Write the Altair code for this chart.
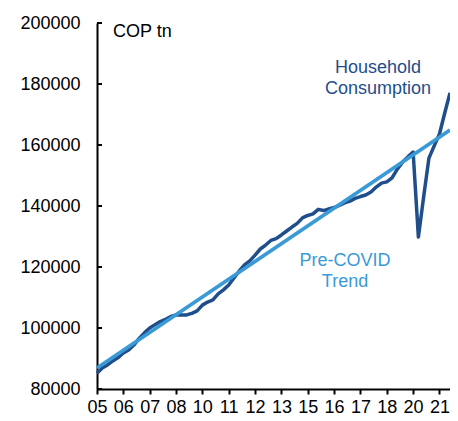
import altair as alt
import pandas as pd

# Quarterly categories 2005Q1 .. 2021Q4
quarters = [f"{y}Q{q}" for y in range(2005, 2022) for q in range(1, 5)]

# Household consumption (COP tn)
household = [85200, 86900, 87900, 89200, 90300, 91800, 92800, 94400, 96600, 98400,
             100000, 101100, 102100, 102800, 103800, 104300, 104300, 104300, 104800, 105600,
             107500, 108500, 109200, 111200, 112500, 114100, 116400, 118700, 120700, 122000,
             123900, 125900, 127200, 128700, 129300, 130500, 131800, 133100, 134300, 136100,
             136900, 137400, 138900, 138500, 139000, 139500, 140200, 141000, 141600, 142500,
             143100, 143600, 144600, 146200, 147500, 147900, 149200, 152100, 154400, 156100,
             157700, 129800, 143000, 155700, 159700, 163600, 170500, 177100]

# Pre-COVID trend (straight line, endpoints)
trend_quarters = ["2005Q1", "2021Q4"]
trend_values = [86900, 164900]

# Axis ticks
x_tick_quarters = ["2005Q1", "2006Q2", "2007Q3", "2008Q4", "2010Q1", "2011Q2", "2012Q3",
                   "2013Q4", "2015Q1", "2016Q2", "2017Q3", "2018Q4", "2020Q1", "2021Q2"]
y_ticks = [80000, 100000, 120000, 140000, 160000, 180000, 200000]

DARK = "#1f4e8a"
LIGHT = "#3a9ad6"
FONT = "Liberation Sans"

df = pd.DataFrame({"quarter": quarters, "value": household})
tdf = pd.DataFrame({"quarter": trend_quarters, "value": trend_values})
ydf = pd.DataFrame({"value": y_ticks})
one = pd.DataFrame({"a": [0]})

xscale = alt.Scale(type="point", domain=quarters, padding=0)
yscale = alt.Scale(domain=[80000, 200000], nice=False, zero=False)

xaxis = alt.Axis(values=x_tick_quarters, labelExpr="substring(datum.label, 2, 4)",
                 labelAngle=0, title=None, domainColor="black", domainWidth=2,
                 tickColor="black", tickWidth=2, tickSize=5, labelPadding=4,
                 labelFontSize=18, labelColor="black", labelFont=FONT, grid=False)
yaxis = alt.Axis(values=y_ticks, format="d", title=None, ticks=False, tickSize=0,
                 labelPadding=17, labelFontSize=18, labelColor="black", labelFont=FONT,
                 domainColor="black", domainWidth=2, grid=False)

hh = alt.Chart(df).mark_line(color=DARK, strokeWidth=3.5, strokeJoin="round").encode(
    x=alt.X("quarter:O", scale=xscale, axis=xaxis),
    y=alt.Y("value:Q", scale=yscale, axis=yaxis),
)

trend = alt.Chart(tdf).mark_line(color=LIGHT, strokeWidth=3.8).encode(
    x=alt.X("quarter:O", scale=xscale, axis=xaxis),
    y=alt.Y("value:Q", scale=yscale, axis=yaxis),
)

yt = alt.Chart(ydf).mark_rule(color="black", strokeWidth=2).encode(
    y=alt.Y("value:Q", scale=yscale, axis=yaxis),
    x=alt.value(0), x2=alt.value(5),
)

cop = alt.Chart(one).mark_text(text="COP tn", align="left", baseline="alphabetic",
                               fontSize=18, font=FONT, color="black").encode(
    x=alt.value(16), y=alt.value(13.7))

hh_lbl = alt.Chart(one).mark_text(text=["Household", "Consumption"], align="center",
                                  baseline="alphabetic", fontSize=18, font=FONT, color=DARK,
                                  lineHeight=20.7).encode(
    x=alt.value(281), y=alt.value(50.3))

tr_lbl = alt.Chart(one).mark_text(text=["Pre-COVID", "Trend"], align="center",
                                  baseline="alphabetic", fontSize=18, font=FONT, color=LIGHT,
                                  lineHeight=20.7).encode(
    x=alt.value(248), y=alt.value(243))

chart = alt.layer(hh, trend, yt, cop, hh_lbl, tr_lbl).properties(
    width=353, height=366,
    background="white",
    autosize=alt.AutoSizeParams(type="none"),
    padding={"left": 89, "top": 15, "right": 0, "bottom": 30},
).configure_view(stroke=None)

chart.save("out.html", embed_options={"renderer": "svg", "actions": False})
